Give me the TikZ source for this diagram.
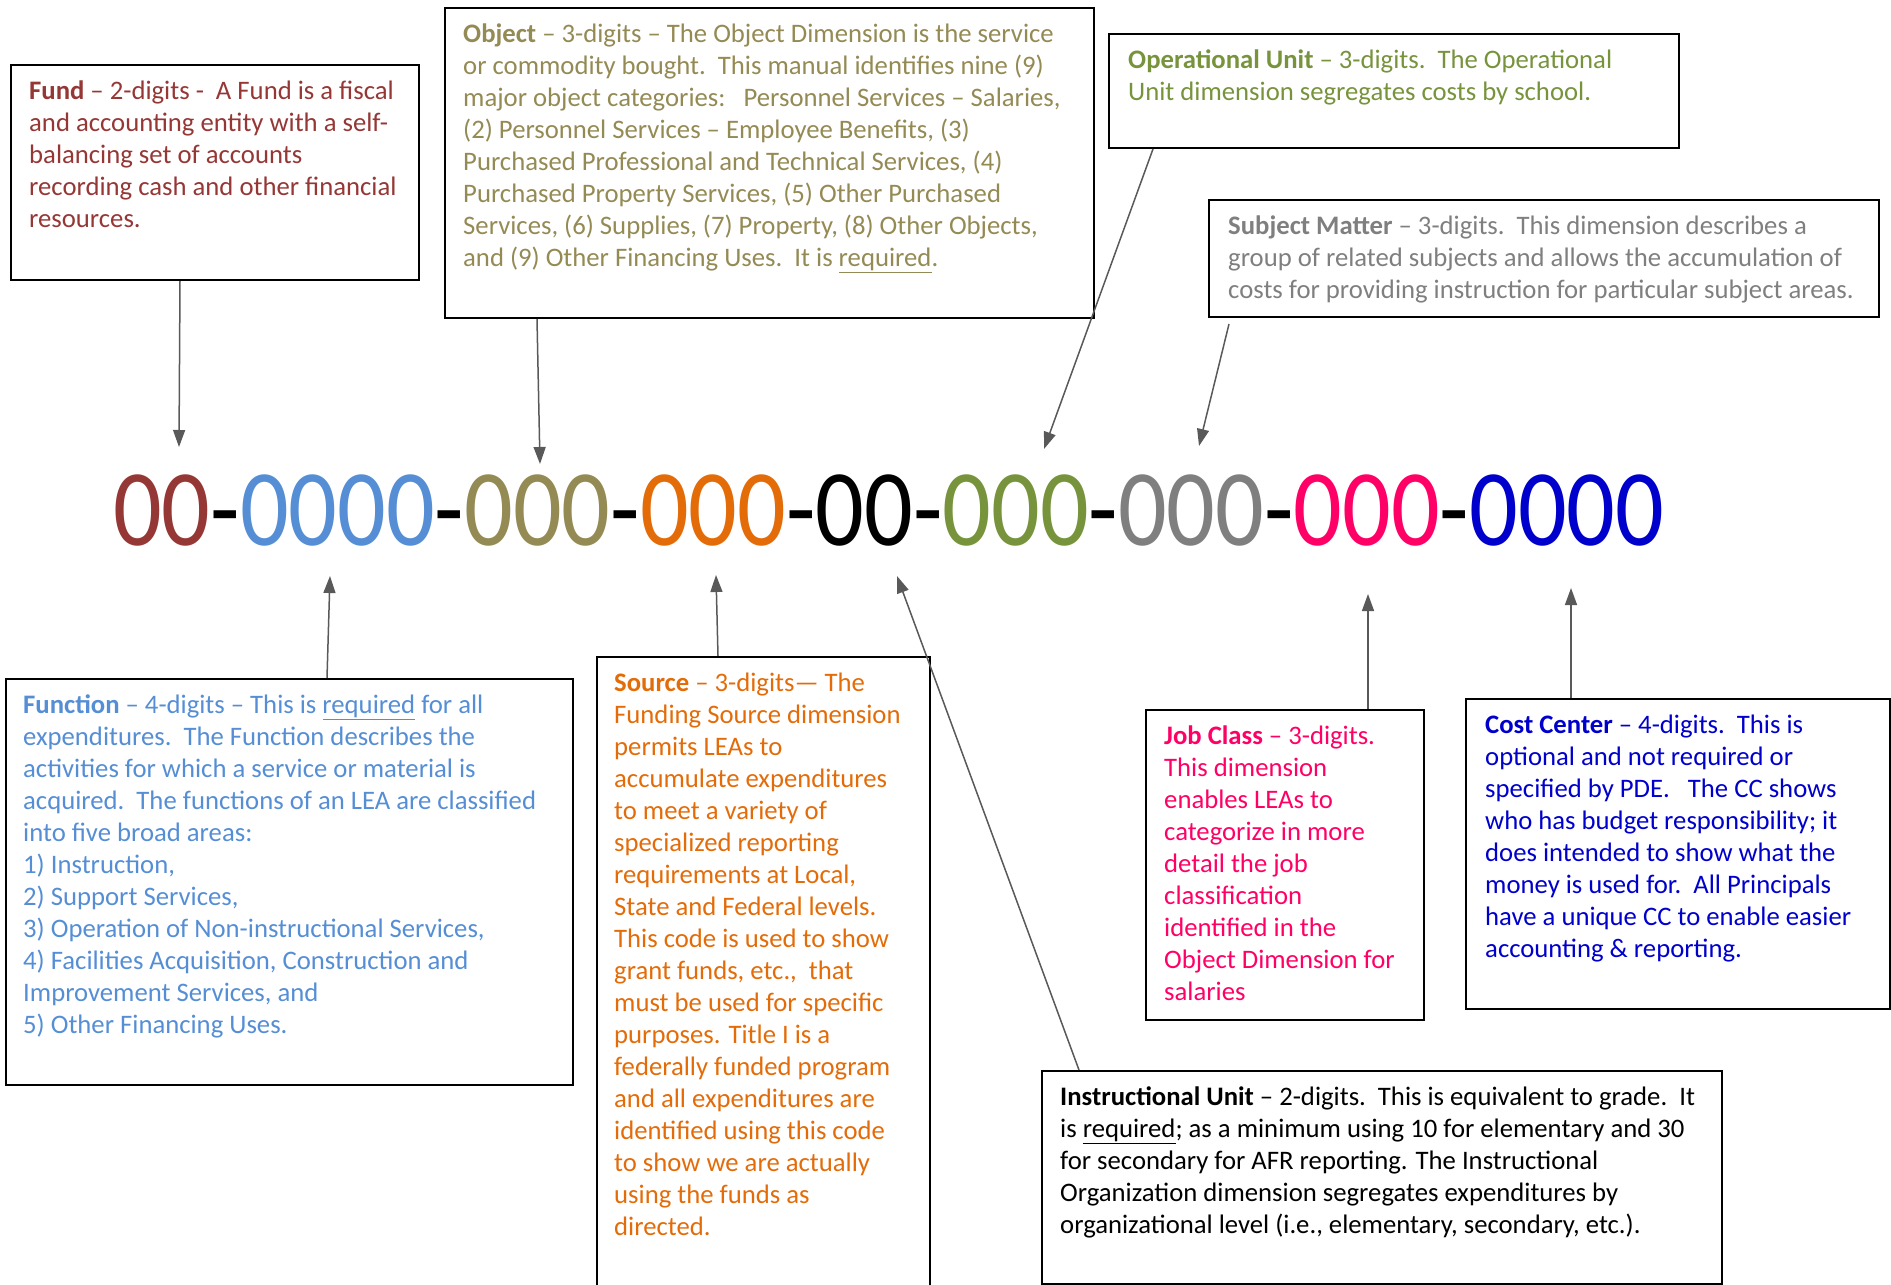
\documentclass[tikz,border=0pt]{standalone}
\usepackage{fontspec}
\setmainfont{Carlito}
\newfontfamily\codefont[FakeStretch=0.882]{Carlito}
\usetikzlibrary{arrows.meta}
\usetikzlibrary{positioning}
\usetikzlibrary{calc}
\tikzset{box/.style = {draw, line width=2pt, anchor=north west, inner sep=0}}
\tikzset{blurb/.style = {align=left, inner sep=0, font=\fontsize{26.7}{32}\selectfont}}
\tikzset{ptr/.style = {draw=black!65, line width=1.5pt, -{Triangle[length=17pt, width=12pt]}}}
\definecolor{mred}{HTML}{953735}
\definecolor{mblue}{HTML}{558ED5}
\definecolor{molive}{HTML}{948A54}
\definecolor{mamber}{HTML}{E36C09}
\definecolor{mgreen}{HTML}{77933C}
\definecolor{mgrey}{HTML}{7F7F7F}
\definecolor{mpink}{HTML}{FF0066}
\definecolor{mnavy}{HTML}{0000CC}

\begin{document}
\begin{tikzpicture}[x=1pt, y=-1pt]
      \useasboundingbox (0, 0) rectangle (1891, 1285);

      % the account code
      \node [anchor=west, inner sep=0, font=\codefont\fontsize{109}{109}\selectfont] (code) at (113, 510)
        {\textcolor{mred}{00}-\textcolor{mblue}{0000}-\textcolor{molive}{000}-\textcolor{mamber}{000}-00-\textcolor{mgreen}{000}-\textcolor{mgrey}{000}-\textcolor{mpink}{000}-\textcolor{mnavy}{0000}};

      % boxes above
      \node [box, minimum width=408pt, minimum height=215pt] (fund) at (10, 64) {};
      \node [blurb, text=mred, below right=17pt and 19pt of fund.north west] (fundtxt)
        {\textbf{Fund} – 2-digits -\ \ A Fund is a fiscal\\and accounting entity with a self-\\balancing set of accounts\\recording cash and other financial\\resources.};

      \node [box, minimum width=649pt, minimum height=310pt] (object) at (444, 7) {};
      \node [blurb, text=molive, below right=17pt and 19pt of object.north west] (objecttxt)
        {\textbf{Object} – 3-digits – The Object Dimension is the service\\or commodity bought.\ \ This manual identifies nine (9)\\major object categories:\ \ \ Personnel Services – Salaries,\\(2) Personnel Services – Employee Benefits, (3)\\Purchased Professional and Technical Services, (4)\\Purchased Property Services, (5) Other Purchased\\Services, (6) Supplies, (7) Property, (8) Other Objects,\\and (9) Other Financing Uses.\ \ It is \underline{required}.};

      \node [box, minimum width=570pt, minimum height=114pt] (opunit) at (1108, 33) {};
      \node [blurb, text=mgreen, below right=17pt and 20pt of opunit.north west] (opunittxt)
        {\textbf{Operational Unit} – 3-digits.\ \ The Operational\\Unit dimension segregates costs by school.};

      \node [box, minimum width=670pt, minimum height=117pt] (subject) at (1208, 199) {};
      \node [blurb, text=mgrey, below right=17pt and 20pt of subject.north west] (subjecttxt)
        {\textbf{Subject Matter} – 3-digits.\ \ This dimension describes a\\group of related subjects and allows the accumulation of\\costs for providing instruction for particular subject areas.};

      % boxes below
      \node [box, minimum width=567pt, minimum height=406pt] (function) at (5, 678) {};
      \node [blurb, text=mblue, below right=17pt and 18pt of function.north west] (functiontxt)
        {\textbf{Function} – 4-digits – This is \underline{required} for all\\expenditures.\ \ The Function describes the\\activities for which a service or material is\\acquired.\ \ The functions of an LEA are classified\\into five broad areas:\\1) Instruction,\\2) Support Services,\\3) Operation of Non-instructional Services,\\4) Facilities Acquisition, Construction and\\Improvement Services, and\\5) Other Financing Uses.};

      \node [box, minimum width=333pt, minimum height=660pt] (source) at (596, 656) {};
      \node [blurb, text=mamber, below right=17pt and 18pt of source.north west] (sourcetxt)
        {\textbf{Source} – 3-digits— The\\Funding Source dimension\\permits LEAs to\\accumulate expenditures\\to meet a variety of\\specialized reporting\\requirements at Local,\\State and Federal levels.\\This code is used to show\\grant funds, etc.,\ \ that\\must be used for specific\\purposes. Title I is a\\federally funded program\\and all expenditures are\\identified using this code\\to show we are actually\\using the funds as\\directed.};

      \node [box, minimum width=278pt, minimum height=310pt] (jobclass) at (1145, 709) {};
      \node [blurb, text=mpink, below right=17pt and 19pt of jobclass.north west] (jobclasstxt)
        {\textbf{Job Class} – 3-digits.\\This dimension\\enables LEAs to\\categorize in more\\detail the job\\classification\\identified in the\\Object Dimension for\\salaries};

      \node [box, minimum width=424pt, minimum height=310pt] (costctr) at (1465, 698) {};
      \node [blurb, text=mnavy, below right=17pt and 20pt of costctr.north west] (costctrtxt)
        {\textbf{Cost Center} – 4-digits.\ \ This is\\optional and not required or\\specified by PDE.\ \ \ The CC shows\\who has budget responsibility; it\\does intended to show what the\\money is used for.\ \ All Principals\\have a unique CC to enable easier\\accounting \& reporting.};

      \node [box, minimum width=680pt, minimum height=213pt] (instr) at (1041, 1070) {};
      \node [blurb, below right=17pt and 19pt of instr.north west] (instrtxt)
        {\textbf{Instructional Unit} – 2-digits.\ \ This is equivalent to grade.\ \ It\\is \underline{required}; as a minimum using 10 for elementary and 30\\for secondary for AFR reporting. The Instructional\\Organization dimension segregates expenditures by\\organizational level (i.e., elementary, secondary, etc.).};

      % arrow tips at the code
      \coordinate (tfund) at (179, 447);
      \coordinate (tobject) at (540, 464);
      \coordinate (topunit) at (1044, 449);
      \coordinate (tsubject) at (1199, 446);
      \coordinate (tfunction) at (330, 576);
      \coordinate (tsource) at (716, 575);
      \coordinate (tinstr) at (897, 576);
      \coordinate (tjobclass) at (1368, 594);
      \coordinate (tcostctr) at (1571, 588);

      \draw [ptr] ($(fund.south west) + (170, 0)$) -- (tfund);
      \draw [ptr] ($(object.south west) + (93, 0)$) -- (tobject);
      \draw [ptr] ($(opunit.south west) + (45, 0)$) -- (topunit);
      \draw [ptr] ($(subject.south west) + (21, 6)$) -- (tsubject);
      \draw [ptr] ($(function.north west) + (322, 0)$) -- (tfunction);
      \draw [ptr] ($(source.north west) + (122, 0)$) -- (tsource);
      \draw [ptr] ($(instr.north west) + (38, 0)$) -- (tinstr);
      \draw [ptr] ($(jobclass.north west) + (223, 0)$) -- (tjobclass);
      \draw [ptr] ($(costctr.north west) + (106, 0)$) -- (tcostctr);
    \end{tikzpicture}
\end{document}
